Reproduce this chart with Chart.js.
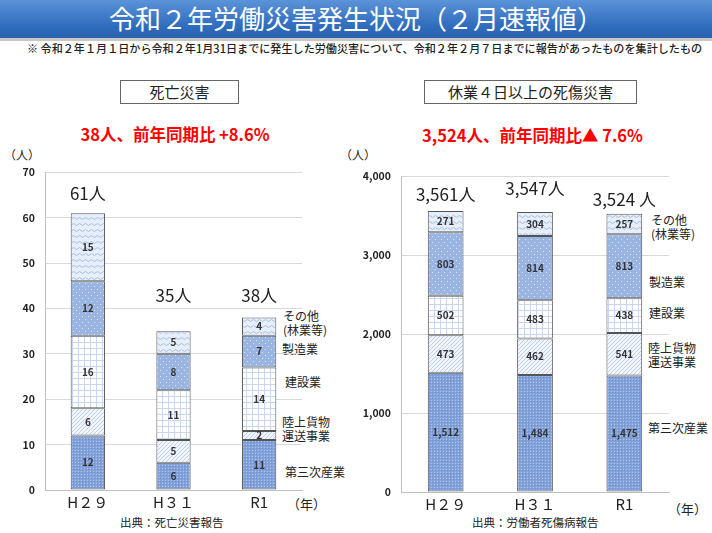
<!DOCTYPE html>
<html lang="ja">
<head>
<meta charset="utf-8">
<script src="https://cdn.jsdelivr.net/npm/chart.js@4"></script>
<style>
  body { margin: 0; width: 712px; height: 533px; background: #fff; position: relative; overflow: hidden;
         font-family: "Noto Sans CJK JP", "Noto Sans", sans-serif; color: #222; }
  .abs { position: absolute; white-space: nowrap; }
  #titlebar { left: 0; top: 0; width: 712px; height: 38px;
              background: linear-gradient(#5b93d8, #2f6cbd 70%, #2a62ae);
              border-bottom: 3px solid #c8c8c8; }
  #title { left: 0; width: 712px; top: 2px; text-align: center; color: #fff; font-size: 26px; line-height: 32px; }
  #note { left: 27px; top: 40px; font-size: 11.1px; line-height: 16px; font-weight: 500; }
  .box { border: 1px solid #666; text-align: center; font-size: 15px; line-height: 22px; height: 22px; }
  .red { color: #ff0000; font-weight: bold; font-size: 16.5px; text-align: center; }
  .small { font-size: 12px; line-height: 14px; }
  .src { font-size: 11.5px; }
  canvas { position: absolute; }
</style>
</head>
<body>
<div id="titlebar" class="abs"></div>
<div id="title" class="abs">令和２年労働災害発生状況（２月速報値）</div>
<div id="note" class="abs">※ 令和２年１月１日から令和２年1月31日までに発生した労働災害について、令和２年２月７日までに報告があったものを集計したもの</div>

<div class="abs box" style="left:120px; top:80px; width:117px;">死亡災害</div>
<div class="abs box" style="left:424px; top:80px; width:211px;">休業４日以上の死傷災害</div>

<div class="abs red" style="left:60px; top:122px; width:230px;">38人、前年同期比 +8.6%</div>
<div class="abs red" style="left:410px; top:123px; width:245px;">3,524人、前年同期比▲ 7.6%</div>

<div class="abs small" style="left:4px; top:148px;">（人）</div>
<div class="abs small" style="left:340px; top:148px;">（人）</div>

<div class="abs small" style="left:283px; top:309px;">その他<br>(林業等)</div>
<div class="abs small" style="left:282px; top:342px;">製造業</div>
<div class="abs small" style="left:285px; top:375px;">建設業</div>
<div class="abs small" style="left:282px; top:415px;">陸上貨物<br>運送事業</div>
<div class="abs small" style="left:285px; top:465px;">第三次産業</div>

<div class="abs small" style="left:651px; top:213px;">その他<br>(林業等)</div>
<div class="abs small" style="left:649px; top:275px;">製造業</div>
<div class="abs small" style="left:649px; top:306px;">建設業</div>
<div class="abs small" style="left:648px; top:341px;">陸上貨物<br>運送事業</div>
<div class="abs small" style="left:648px; top:421px;">第三次産業</div>

<div class="abs small" style="left:287px; top:497px; font-size:13px;">（年）</div>
<div class="abs small" style="left:668px; top:502px; font-size:13px;">（年）</div>

<div class="abs src" style="left:120px; top:514px;">出典：死亡災害報告</div>
<div class="abs src" style="left:472px; top:514px;">出典：労働者死傷病報告</div>

<canvas id="deaths" style="left:0px; top:156px;" width="310" height="364"></canvas>
<canvas id="injuries" style="left:356px; top:160px;" width="320" height="362"></canvas>

<script>
// categories
const years = ['H２９', 'H３１', 'R1'];
const industries = ['第三次産業', '陸上貨物運送事業', '建設業', '製造業', 'その他（林業等）'];

// 死亡災害 (人)
const deathTertiary = [12, 6, 11];
const deathTransport = [6, 5, 2];
const deathConstruction = [16, 11, 14];
const deathManufacturing = [12, 8, 7];
const deathOther = [15, 5, 4];

// 休業4日以上の死傷災害 (人)
const injuryTertiary = [1512, 1484, 1475];
const injuryTransport = [473, 462, 541];
const injuryConstruction = [502, 483, 438];
const injuryManufacturing = [803, 814, 813];
const injuryOther = [271, 304, 257];

// tick labels
const deathTicks = [0, 10, 20, 30, 40, 50, 60, 70];
const injuryTicks = [0, 1000, 2000, 3000, 4000];

const FONT = '"Noto Sans CJK JP", "Noto Sans", sans-serif';

// small tile patterns like the office chart fills
function makePattern(size, draw) {
    const c = document.createElement('canvas');
    c.width = size; c.height = size;
    const g = c.getContext('2d');
    draw(g, size);
    return g.createPattern(c, 'repeat');
}

const patterns = [
    // 第三次産業: dense dots on blue
    makePattern(3, (g, s) => {
        g.fillStyle = '#83a2d9'; g.fillRect(0, 0, s, s);
        g.fillStyle = '#b0c6ea'; g.fillRect(0, 0, 1, 1);
        g.fillStyle = '#6e8fcb'; g.fillRect(1, 1, 1, 1);
    }),
    // 陸上貨物: light diagonal hatch
    makePattern(4, (g, s) => {
        g.fillStyle = '#f2f6fc'; g.fillRect(0, 0, s, s);
        g.fillStyle = '#bcd0ee';
        for (let i = 0; i < s; i++) g.fillRect(i, s - 1 - i, 1, 1);
    }),
    // 建設業: light grid
    makePattern(6, (g, s) => {
        g.fillStyle = '#ffffff'; g.fillRect(0, 0, s, s);
        g.fillStyle = '#c8d7f0';
        g.fillRect(0, 0, s, 1); g.fillRect(0, 0, 1, s);
    }),
    // 製造業: white dots on blue
    makePattern(6, (g, s) => {
        g.fillStyle = '#9ab5e2'; g.fillRect(0, 0, s, s);
        g.fillStyle = '#dbe5f6';
        g.fillRect(1, 1, 1, 1); g.fillRect(4, 4, 1, 1);
    }),
    // その他: waves
    makePattern(6, (g, s) => {
        g.fillStyle = '#e6eef9'; g.fillRect(0, 0, s, s);
        g.strokeStyle = '#a6bee6'; g.lineWidth = 1;
        g.beginPath();
        g.moveTo(0, 2.5); g.quadraticCurveTo(1.5, 0.5, 3, 2.5); g.quadraticCurveTo(4.5, 4.5, 6, 2.5);
        g.stroke();
    })
];

// numbers inside each segment + totals above bars
const labelPlugin = {
    id: 'segLabels',
    afterDatasetsDraw(chart, args, opts) {
        const ctx = chart.ctx;
        ctx.save();
        ctx.textAlign = 'center';
        ctx.textBaseline = 'middle';
        ctx.fillStyle = '#333';
        ctx.font = 'bold 10px ' + FONT;
        chart.data.datasets.forEach((ds, di) => {
            chart.getDatasetMeta(di).data.forEach((bar, i) => {
                const v = ds.data[i];
                ctx.fillText(v.toLocaleString('en-US'), bar.x, (bar.y + bar.base) / 2);
            });
        });
        ctx.font = '17px ' + FONT;
        ctx.fillStyle = '#222';
        const last = chart.getDatasetMeta(chart.data.datasets.length - 1).data;
        last.forEach((bar, i) => {
            const total = chart.data.datasets.reduce((a, ds) => a + ds.data[i], 0);
            const gap = opts.offsets ? opts.offsets[i] : 20;
            ctx.fillText(total.toLocaleString('en-US') + (opts.spaced && opts.spaced[i] ? ' 人' : '人'), bar.x, bar.y - gap);
        });
        ctx.restore();
    }
};

function buildChart(id, seriesList, ticks, yMax, offsets, spaced, padRight) {
    return new Chart(document.getElementById(id), {
        type: 'bar',
        data: {
            labels: years,
            datasets: seriesList.map((s, k) => ({
                label: industries[k],
                data: s,
                backgroundColor: patterns[k],
                borderColor: '#555',
                borderWidth: 1,
                borderSkipped: false,
                barPercentage: 0.4,
                categoryPercentage: 1
            }))
        },
        options: {
            responsive: false,
            animation: false,
            layout: { padding: { top: 0, right: padRight, left: 0, bottom: 0 } },
            plugins: {
                legend: { display: false },
                tooltip: { enabled: false },
                segLabels: { offsets: offsets, spaced: spaced }
            },
            scales: {
                x: {
                    stacked: true,
                    grid: { display: false },
                    border: { color: '#bfbfbf' },
                    ticks: { color: '#222', font: { family: FONT, size: 15 }, padding: -5 },
                    afterFit: (s) => { s.height = 30; }
                },
                y: {
                    stacked: true,
                    min: 0,
                    max: yMax,
                    afterBuildTicks: (s) => { s.ticks = ticks.map(v => ({ value: v })); },
                    grid: { color: '#d9d9d9', drawTicks: false },
                    border: { color: '#bfbfbf' },
                    ticks: {
                        color: '#222',
                        padding: 10,
                        font: { family: FONT, size: 10.5, weight: 'bold' },
                        callback: (v) => v.toLocaleString('en-US')
                    },
                    afterFit: (s) => { s.width = 45; }
                }
            }
        },
        plugins: [labelPlugin]
    });
}

buildChart('deaths',
    [deathTertiary, deathTransport, deathConstruction, deathManufacturing, deathOther],
    deathTicks, 70, [20, 36, 22], null, 8);

buildChart('injuries',
    [injuryTertiary, injuryTransport, injuryConstruction, injuryManufacturing, injuryOther],
    injuryTicks, 4000, [16, 24, 14], [false, false, true], 7);
</script>
</body>
</html>
